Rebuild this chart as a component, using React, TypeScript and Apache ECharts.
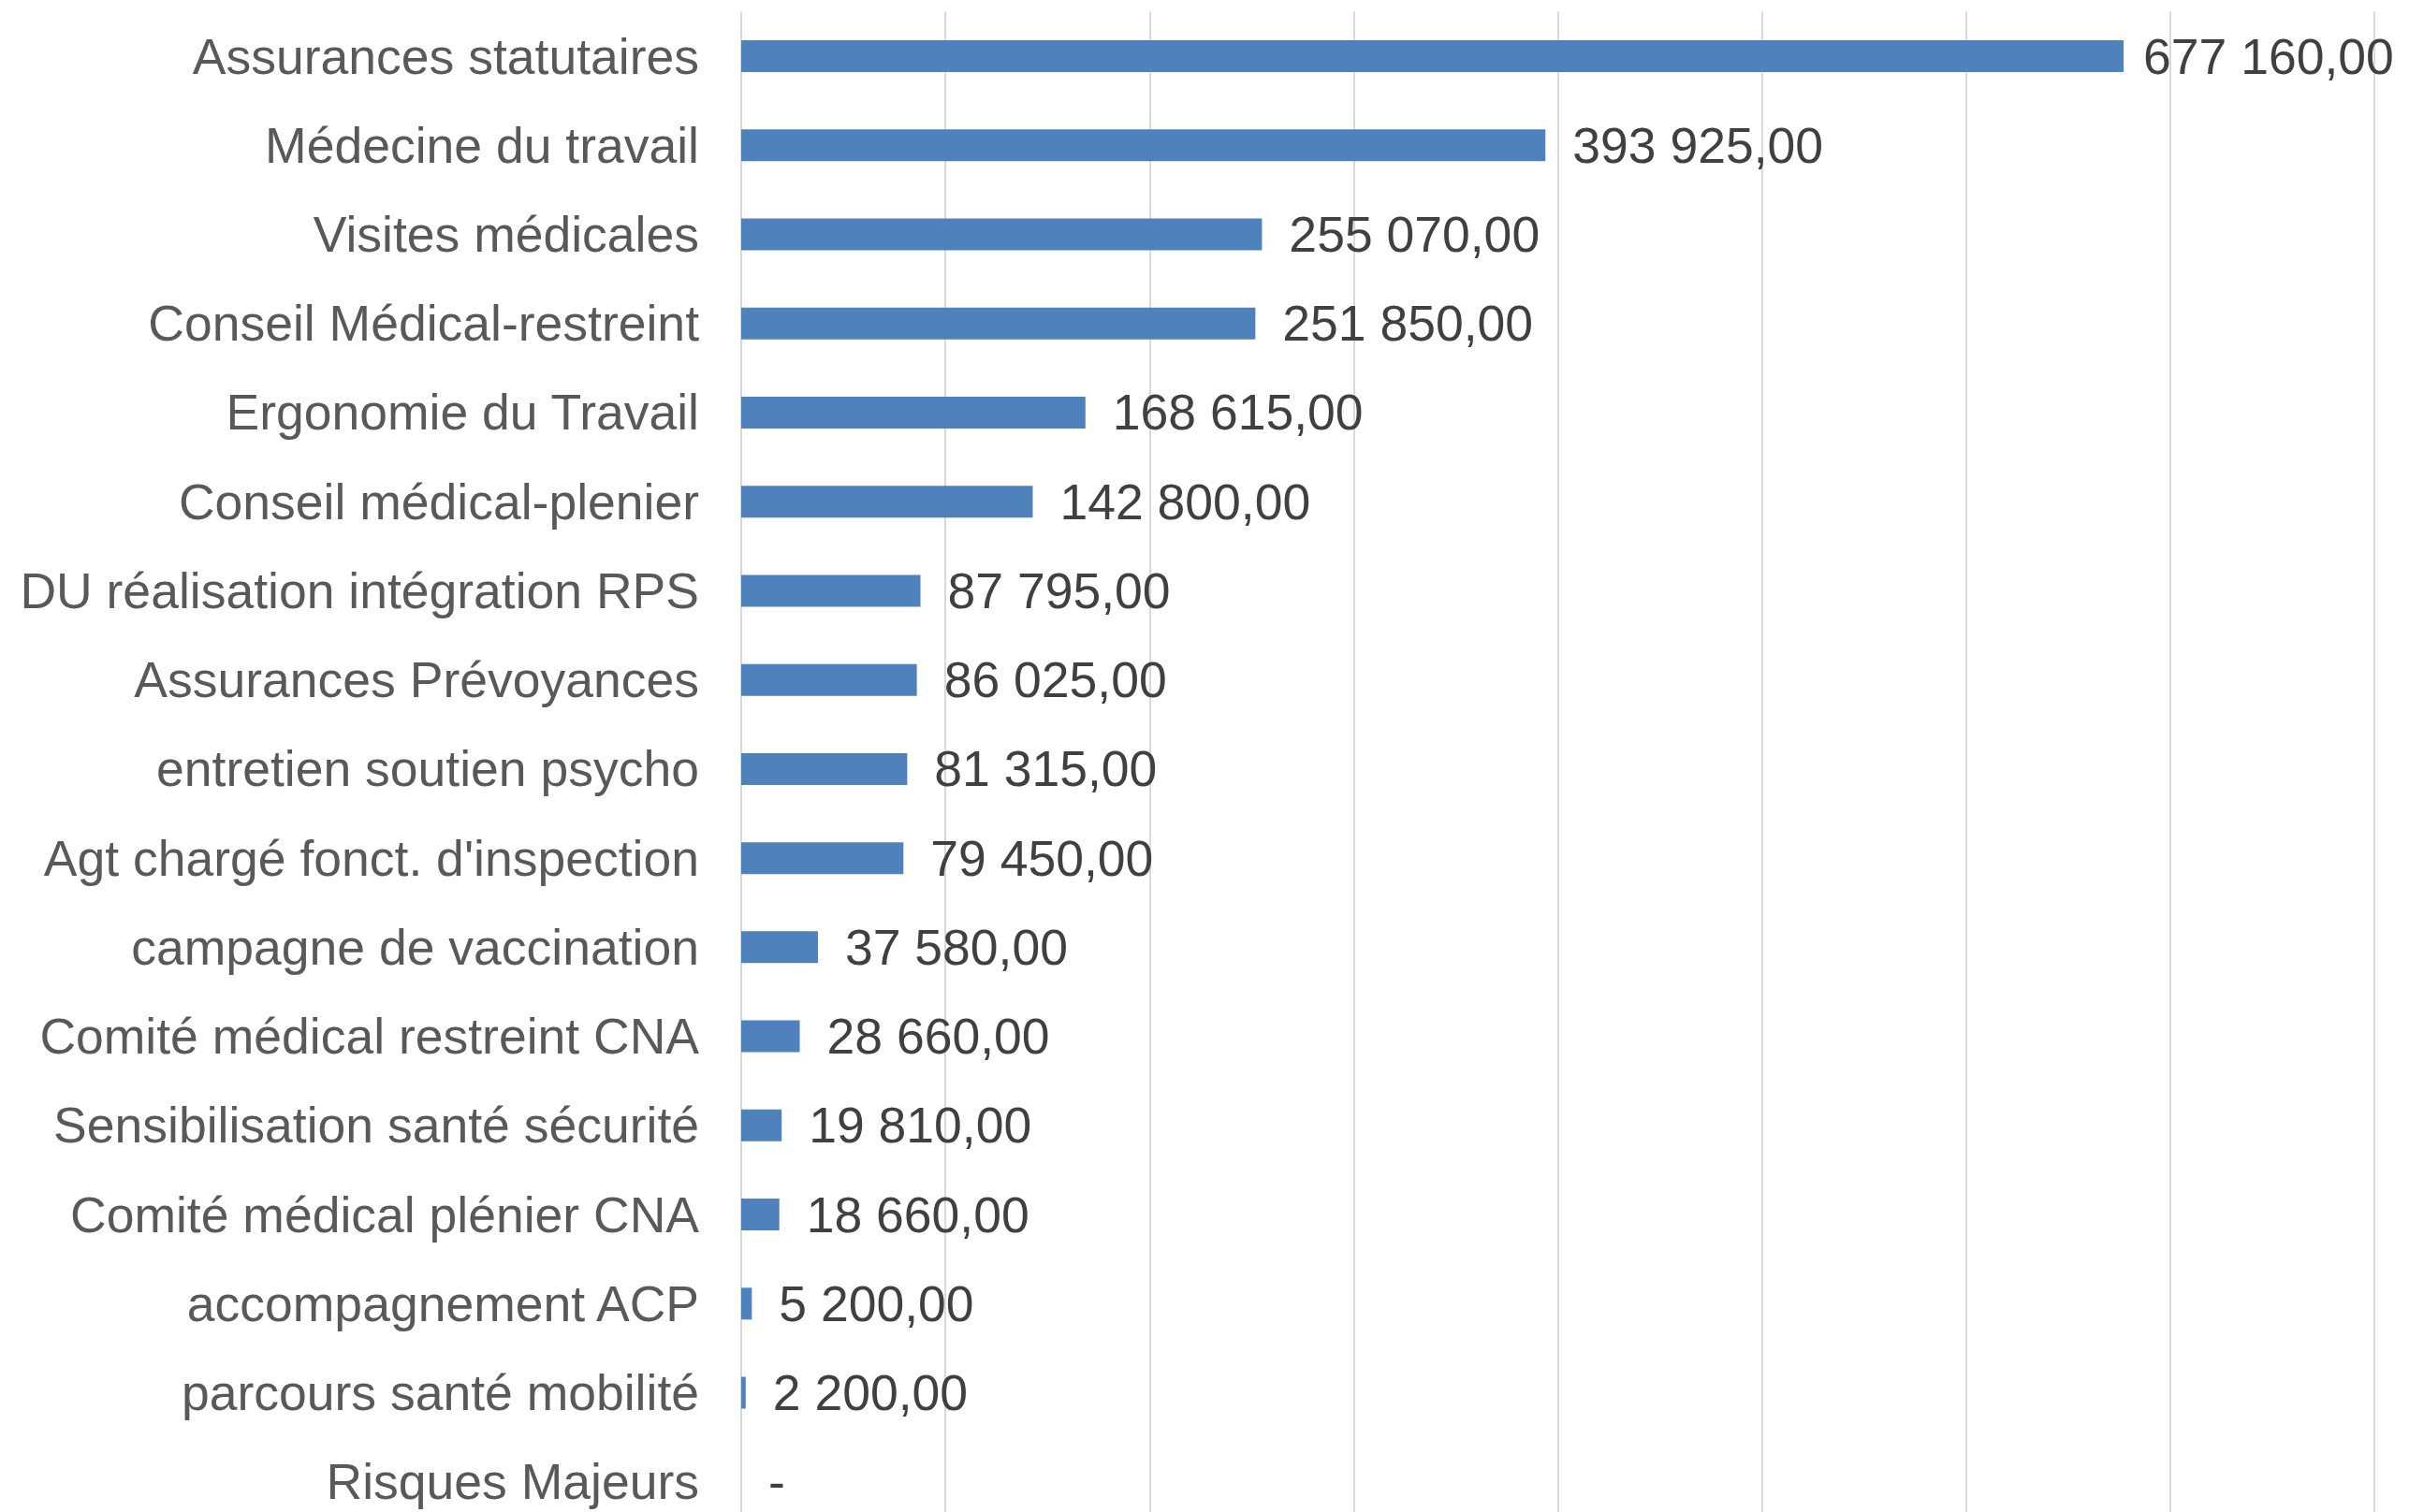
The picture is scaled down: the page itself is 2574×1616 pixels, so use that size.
import React, { useEffect, useRef } from "react";
import * as echarts from "echarts";

const categories: string[] = [
  "Assurances statutaires",
  "Médecine du travail",
  "Visites médicales",
  "Conseil Médical-restreint",
  "Ergonomie du Travail",
  "Conseil médical-plenier",
  "DU réalisation intégration RPS",
  "Assurances Prévoyances",
  "entretien soutien psycho",
  "Agt chargé fonct. d'inspection",
  "campagne de vaccination",
  "Comité médical restreint CNA",
  "Sensibilisation santé sécurité",
  "Comité médical plénier CNA",
  "accompagnement ACP",
  "parcours santé mobilité",
  "Risques Majeurs",
];

const values: number[] = [
  677160, 393925, 255070, 251850, 168615, 142800, 87795, 86025, 81315, 79450,
  37580, 28660, 19810, 18660, 5200, 2200, 0,
];

const axisMin = 0;
const axisMax = 800000;
const axisInterval = 100000;

function formatValue(v: number): string {
  if (!v) return "-";
  const [intPart, dec] = v.toFixed(2).split(".");
  const withSpaces = intPart.replace(/\B(?=(\d{3})+(?!\d))/g, " ");
  return withSpaces + "," + dec;
}

export default function App() {
  const ref = useRef<HTMLDivElement>(null);

  useEffect(() => {
    if (!ref.current) return;
    const chart = echarts.init(ref.current, undefined, { renderer: "svg" });
    const font = "'Liberation Sans', Arial, sans-serif";
    chart.setOption({
      animation: false,
      backgroundColor: "#ffffff",
      grid: {
        left: 792,
        right: 37,
        top: 12.4,
        height: 1619,
        containLabel: false,
        outerBoundsMode: "none",
      },
      xAxis: {
        type: "value",
        min: axisMin,
        max: axisMax,
        interval: axisInterval,
        axisLabel: { show: false },
        axisLine: { show: false },
        axisTick: { show: false },
        splitLine: { show: true, lineStyle: { color: "#D9D9D9", width: 2 } },
      },
      yAxis: {
        type: "category",
        data: categories,
        inverse: true,
        axisLine: { show: false },
        axisTick: { show: false },
        splitLine: { show: false },
        axisLabel: {
          color: "#595959",
          fontFamily: font,
          fontSize: 53.5,
          margin: 45,
        },
      },
      series: [
        {
          type: "bar",
          data: values.map((v, i) =>
            i === 0 ? { value: v, label: { offset: [-8, 0] } } : v
          ),
          barWidth: 34,
          itemStyle: { color: "#4F81BD" },
          label: {
            show: true,
            position: "right",
            distance: 29,
            color: "#404040",
            fontFamily: font,
            fontSize: 53.5,
            formatter: (p: any) => formatValue(p.value),
          },
        },
      ],
    });
    return () => chart.dispose();
  }, []);

  return (
    <div
      ref={ref}
      style={{ position: "absolute", left: 0, top: 0, width: 2574, height: 1616 }}
    />
  );
}
